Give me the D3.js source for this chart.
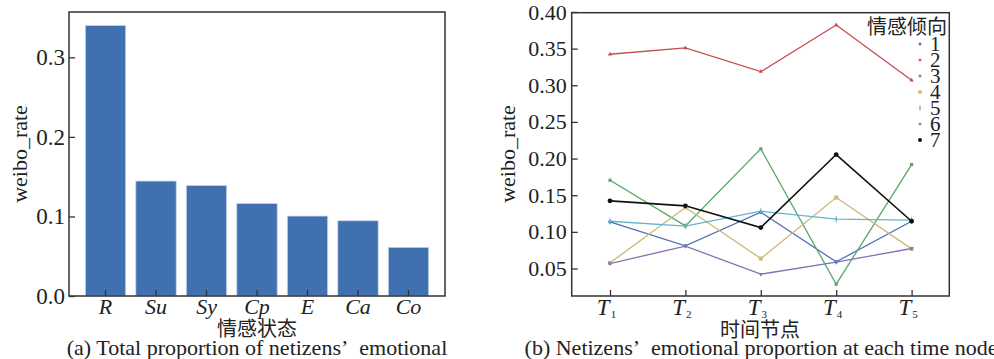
<!DOCTYPE html>
<html>
<head>
<meta charset="utf-8">
<script src="https://cdn.jsdelivr.net/npm/d3@7"></script>
<style>
  body { margin: 0; background: #fff; }
  svg text { font-family: "Liberation Serif", "Times New Roman", Times, "DejaVu Serif", serif; fill: #222; }
  svg text.cjk { font-family: "Noto Sans CJK SC", sans-serif; }
</style>
</head>
<body>
<svg id="chart" width="994" height="359"></svg>
<script>
// bar chart data (a)
const states = ["R", "Su", "Sy", "Cp", "E", "Ca", "Co"];
const totalRate = [0.340, 0.1445, 0.139, 0.1164, 0.1005, 0.0946, 0.0612];
const barTicks = [0.0, 0.1, 0.2, 0.3];

// line chart data (b)
const timeNodes = [1, 2, 3, 4, 5];
const tendencies = ["1", "2", "3", "4", "5", "6", "7"];
const s1 = [0.1136, 0.0809, 0.1268, 0.0591, 0.1145];
const s2 = [0.3423, 0.3509, 0.3186, 0.3823, 0.3068];
const s3 = [0.1705, 0.1082, 0.2132, 0.0286, 0.1918];
const s4 = [0.0577, 0.1332, 0.0636, 0.1468, 0.0768];
const s5 = [0.1145, 0.1077, 0.1282, 0.1173, 0.1159];
const s6 = [0.0568, 0.0805, 0.0423, 0.0586, 0.0773];
const s7 = [0.1423, 0.1355, 0.1059, 0.2055, 0.1145];
const lineTicks = [0.05, 0.10, 0.15, 0.20, 0.25, 0.30, 0.35, 0.40];
const colors = ["#4c72b0", "#c44e52", "#55a868", "#ccb974", "#64b5cd", "#8172b3", "#111111"];

const svg = d3.select("#chart");
svg.append("rect").attr("width", 994).attr("height", 359).attr("fill", "#fff");

// ---------- (a) bars ----------
let left = svg.append("g");
let xA = d3.scaleBand().domain(states).range([69, 445]).paddingInner(0.2).paddingOuter(0.323);
let yA = d3.scaleLinear().domain([0, 0.357]).range([296, 12]);

left.selectAll(".bar")
  .data(states.map((s, i) => ({ s, v: totalRate[i] })))
  .enter()
  .append("rect")
  .attr("class", "bar")
  .attr("x", d => xA(d.s))
  .attr("y", d => yA(d.v))
  .attr("width", xA.bandwidth())
  .attr("height", d => yA(0) - yA(d.v))
  .attr("fill", "#4170b0")
  .style("stroke", "#c9d6ea")
  .style("stroke-width", 0.8);

left.append("g")
  .attr("transform", "translate(0,296)")
  .call(d3.axisBottom(xA).tickSizeInner(-6).tickSizeOuter(0).tickPadding(2))
  .call(g => g.select(".domain").remove())
  .call(g => g.selectAll("line").attr("stroke", "#333").attr("stroke-width", 1.3))
  .call(g => g.selectAll("text").attr("font-size", 22).attr("font-style", "italic"));

left.append("g")
  .attr("transform", "translate(69,0)")
  .call(d3.axisLeft(yA).tickValues(barTicks).tickFormat(d3.format(".1f")).tickSizeInner(-6).tickSizeOuter(0).tickPadding(4))
  .call(g => g.select(".domain").remove())
  .call(g => g.selectAll("line").attr("stroke", "#333").attr("stroke-width", 1.3))
  .call(g => g.selectAll("text").attr("font-size", 23));

left.append("rect").attr("x", 69).attr("y", 12).attr("width", 376).attr("height", 284)
  .attr("fill", "none").attr("stroke", "#333").attr("stroke-width", 1.5);

left.append("text").attr("transform", "translate(27,154) rotate(-90)")
  .attr("text-anchor", "middle").attr("font-size", 22).text("weibo_rate");
left.append("text").attr("class", "cjk").attr("x", 257).attr("y", 336)
  .attr("text-anchor", "middle").attr("font-size", 20).text("情感状态");
left.append("text").attr("x", 257).attr("y", 355)
  .attr("text-anchor", "middle").attr("font-size", 22).text("(a) Total proportion of netizens’\u00a0\u00a0emotional");

// ---------- (b) lines ----------
let right = svg.append("g");
let xB = d3.scaleLinear().domain([0.492, 5.5]).range([571.7, 949.3]);
let yB = d3.scaleLinear().domain([0.0125, 0.399]).range([296, 12.7]);
let series = [s1, s2, s3, s4, s5, s6, s7];

let line = d3.line().x((d, i) => xB(timeNodes[i])).y(d => yB(d));
right.selectAll(".line")
  .data(series)
  .enter()
  .append("path")
  .attr("class", "line")
  .attr("d", d => line(d))
  .attr("fill", "none")
  .attr("stroke", (d, i) => colors[i])
  .attr("stroke-width", (d, i) => i == 6 ? 1.6 : 1.3);

let markerType = [d3.symbolCircle, d3.symbolTriangle, d3.symbolSquare, d3.symbolSquare,
                  d3.symbolDiamond, d3.symbolTriangle, d3.symbolCircle];
let markerSize = [10, 8, 10, 16, 10, 8, 18];
let markerRot = [0, 0, 0, 0, 0, 180, 0];

series.forEach((s, k) => {
  right.selectAll(".pt" + k)
    .data(s)
    .enter()
    .append("path")
    .attr("class", "pt" + k)
    .attr("d", d3.symbol().type(markerType[k]).size(markerSize[k]))
    .attr("transform", (d, i) => `translate(${xB(timeNodes[i])},${yB(d)}) rotate(${markerRot[k]})` + (k == 4 ? " scale(0.6,1.4)" : ""))
    .attr("fill", colors[k]);
});

let xAxisB = right.append("g")
  .attr("transform", "translate(0,296)")
  .call(d3.axisBottom(xB).tickValues(timeNodes).tickSizeInner(-6).tickSizeOuter(0).tickFormat(""))
  .call(g => g.select(".domain").remove())
  .call(g => g.selectAll("line").attr("stroke", "#333").attr("stroke-width", 1.3));

xAxisB.selectAll(".tick").append("text")
  .attr("y", 19).attr("x", -4).attr("text-anchor", "middle")
  .call(t => t.append("tspan").attr("font-size", 23).attr("font-style", "italic").text("T"))
  .call(t => t.append("tspan").attr("font-size", 11).attr("dy", 3).attr("dx", 1).text(d => d));

right.append("g")
  .attr("transform", "translate(571.7,0)")
  .call(d3.axisLeft(yB).tickValues(lineTicks).tickFormat(d3.format(".2f")).tickSizeInner(-6).tickSizeOuter(0).tickPadding(5))
  .call(g => g.select(".domain").remove())
  .call(g => g.selectAll("line").attr("stroke", "#333").attr("stroke-width", 1.3))
  .call(g => g.selectAll("text").attr("font-size", 22));

right.append("rect").attr("x", 571.7).attr("y", 12.7).attr("width", 377.6).attr("height", 283.3)
  .attr("fill", "none").attr("stroke", "#333").attr("stroke-width", 1.5);

right.append("text").attr("transform", "translate(515,154) rotate(-90)")
  .attr("text-anchor", "middle").attr("font-size", 22).text("weibo_rate");
right.append("text").attr("class", "cjk").attr("x", 760).attr("y", 337)
  .attr("text-anchor", "middle").attr("font-size", 20).text("时间节点");
right.append("text").attr("x", 761).attr("y", 355)
  .attr("text-anchor", "middle").attr("font-size", 22).text("(b) Netizens’\u00a0\u00a0emotional proportion at each time node");

// legend
let legend = right.append("g");
legend.append("text").attr("class", "cjk").attr("x", 947).attr("y", 34)
  .attr("text-anchor", "end").attr("font-size", 20).text("情感倾向");
let legendY = d3.scalePoint().domain(tendencies).range([44, 140]);
let items = legend.selectAll(".item")
  .data(tendencies)
  .enter()
  .append("g")
  .attr("class", "item")
  .attr("transform", d => `translate(920,${legendY(d)})`);
items.append("path")
  .attr("d", (d, i) => d3.symbol().type(markerType[i]).size(markerSize[i] * 0.7)())
  .attr("transform", (d, i) => `rotate(${markerRot[i]})` + (i == 4 ? " scale(0.6,1.4)" : ""))
  .attr("fill", (d, i) => colors[i]);
items.append("text").attr("x", 10).attr("y", 7).attr("font-size", 21).text(d => d);
</script>
</body>
</html>
